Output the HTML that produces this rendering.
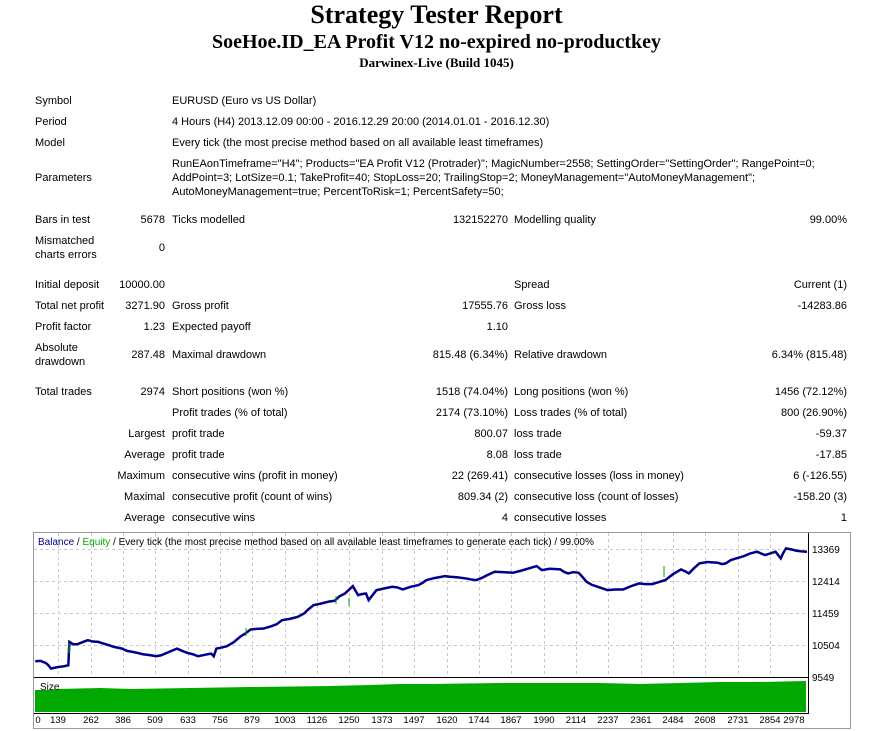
<!DOCTYPE html><html><head><style>
body{margin:0;width:873px;height:731px;background:#fff;position:relative;font-family:"Liberation Sans",sans-serif;font-size:11px;color:#000;overflow:hidden}
.t{position:absolute;white-space:nowrap;line-height:14px}
.r{text-align:right}
h1,h2,h3{position:absolute;left:0;width:873px;text-align:center;margin:0;font-family:"Liberation Serif",serif;font-weight:bold}
</style></head><body>
<h1 style="top:0;font-size:26px">Strategy Tester Report</h1>
<h2 style="top:31px;font-size:20px">SoeHoe.ID_EA Profit V12 no-expired no-productkey</h2>
<h3 style="top:55px;font-size:13px">Darwinex-Live (Build 1045)</h3>

<div class="t" style="left:35px;top:94px">Symbol</div><div class="t" style="left:172px;top:94px">EURUSD (Euro vs US Dollar)</div>
<div class="t" style="left:35px;top:115px">Period</div><div class="t" style="left:172px;top:115px">4 Hours (H4) 2013.12.09 00:00 - 2016.12.29 20:00 (2014.01.01 - 2016.12.30)</div>
<div class="t" style="left:35px;top:136px">Model</div><div class="t" style="left:172px;top:136px">Every tick (the most precise method based on all available least timeframes)</div>
<div class="t" style="left:35px;top:171px">Parameters</div>
<div class="t" style="left:172px;top:157px">RunEAonTimeframe="H4"; Products="EA Profit V12 (Protrader)"; MagicNumber=2558; SettingOrder="SettingOrder"; RangePoint=0;</div>
<div class="t" style="left:172px;top:171px">AddPoint=3; LotSize=0.1; TakeProfit=40; StopLoss=20; TrailingStop=2; MoneyManagement="AutoMoneyManagement";</div>
<div class="t" style="left:172px;top:185px">AutoMoneyManagement=true; PercentToRisk=1; PercentSafety=50;</div>

<div class="t" style="left:35px;top:213px">Bars in test</div><div class="t r" style="right:708px;top:213px">5678</div>
<div class="t" style="left:172px;top:213px">Ticks modelled</div><div class="t r" style="right:365px;top:213px">132152270</div>
<div class="t" style="left:514px;top:213px">Modelling quality</div><div class="t r" style="right:26px;top:213px">99.00%</div>
<div class="t" style="left:35px;top:234px">Mismatched<br>charts errors</div><div class="t r" style="right:708px;top:241px">0</div>

<div class="t" style="left:35px;top:278px">Initial deposit</div><div class="t r" style="right:708px;top:278px">10000.00</div>
<div class="t" style="left:514px;top:278px">Spread</div><div class="t r" style="right:26px;top:278px">Current (1)</div>
<div class="t" style="left:35px;top:299px">Total net profit</div><div class="t r" style="right:708px;top:299px">3271.90</div>
<div class="t" style="left:172px;top:299px">Gross profit</div><div class="t r" style="right:365px;top:299px">17555.76</div>
<div class="t" style="left:514px;top:299px">Gross loss</div><div class="t r" style="right:26px;top:299px">-14283.86</div>
<div class="t" style="left:35px;top:320px">Profit factor</div><div class="t r" style="right:708px;top:320px">1.23</div>
<div class="t" style="left:172px;top:320px">Expected payoff</div><div class="t r" style="right:365px;top:320px">1.10</div>
<div class="t" style="left:35px;top:341px">Absolute<br>drawdown</div><div class="t r" style="right:708px;top:348px">287.48</div>
<div class="t" style="left:172px;top:348px">Maximal drawdown</div><div class="t r" style="right:365px;top:348px">815.48 (6.34%)</div>
<div class="t" style="left:514px;top:348px">Relative drawdown</div><div class="t r" style="right:26px;top:348px">6.34% (815.48)</div>

<div class="t" style="left:35px;top:385px">Total trades</div><div class="t r" style="right:708px;top:385px">2974</div>
<div class="t" style="left:172px;top:385px">Short positions (won %)</div><div class="t r" style="right:365px;top:385px">1518 (74.04%)</div>
<div class="t" style="left:514px;top:385px">Long positions (won %)</div><div class="t r" style="right:26px;top:385px">1456 (72.12%)</div>
<div class="t" style="left:172px;top:406px">Profit trades (% of total)</div><div class="t r" style="right:365px;top:406px">2174 (73.10%)</div>
<div class="t" style="left:514px;top:406px">Loss trades (% of total)</div><div class="t r" style="right:26px;top:406px">800 (26.90%)</div>
<div class="t r" style="right:708px;top:427px">Largest</div><div class="t" style="left:172px;top:427px">profit trade</div><div class="t r" style="right:365px;top:427px">800.07</div>
<div class="t" style="left:514px;top:427px">loss trade</div><div class="t r" style="right:26px;top:427px">-59.37</div>
<div class="t r" style="right:708px;top:448px">Average</div><div class="t" style="left:172px;top:448px">profit trade</div><div class="t r" style="right:365px;top:448px">8.08</div>
<div class="t" style="left:514px;top:448px">loss trade</div><div class="t r" style="right:26px;top:448px">-17.85</div>
<div class="t r" style="right:708px;top:469px">Maximum</div><div class="t" style="left:172px;top:469px">consecutive wins (profit in money)</div><div class="t r" style="right:365px;top:469px">22 (269.41)</div>
<div class="t" style="left:514px;top:469px">consecutive losses (loss in money)</div><div class="t r" style="right:26px;top:469px">6 (-126.55)</div>
<div class="t r" style="right:708px;top:490px">Maximal</div><div class="t" style="left:172px;top:490px">consecutive profit (count of wins)</div><div class="t r" style="right:365px;top:490px">809.34 (2)</div>
<div class="t" style="left:514px;top:490px">consecutive loss (count of losses)</div><div class="t r" style="right:26px;top:490px">-158.20 (3)</div>
<div class="t r" style="right:708px;top:511px">Average</div><div class="t" style="left:172px;top:511px">consecutive wins</div><div class="t r" style="right:365px;top:511px">4</div>
<div class="t" style="left:514px;top:511px">consecutive losses</div><div class="t r" style="right:26px;top:511px">1</div>

<svg style="position:absolute;left:0;top:0" width="873" height="731">
<rect x="33.5" y="532.5" width="817" height="196" fill="#fff" stroke="#999"/>
<g stroke="#c8c8c8" stroke-dasharray="3,3" stroke-width="1">
<line x1="34" x2="808" y1="549.5" y2="549.5"/><line x1="34" x2="808" y1="581.5" y2="581.5"/><line x1="34" x2="808" y1="613.5" y2="613.5"/><line x1="34" x2="808" y1="645.5" y2="645.5"/>
<path d="M58.5 533V677M91.5 533V677M123.5 533V677M155.5 533V677M188.5 533V677M220.5 533V677M252.5 533V677M285.5 533V677M317.5 533V677M349.5 533V677M382.5 533V677M414.5 533V677M447.5 533V677M479.5 533V677M511.5 533V677M544.5 533V677M576.5 533V677M608.5 533V677M641.5 533V677M673.5 533V677M705.5 533V677M738.5 533V677M770.5 533V677"/>
</g>
<line x1="808.5" x2="808.5" y1="533" y2="714" stroke="#000"/>
<line x1="34" x2="808" y1="677.5" y2="677.5" stroke="#000"/>
<line x1="34" x2="808" y1="713.5" y2="713.5" stroke="#000"/>
<polygon points="35,690 50,690 58,689 100,688 130,689 190,688 250,687 330,686 370,685 400,684 430,684 500,683 550,683 600,683 640,684 680,683 720,682 760,682 806,681 806,712 35,712" fill="#00a800"/>
<g transform="translate(30,530) scale(0.525,0.334)">
<polyline fill="none" stroke="#00008c" stroke-width="2.5" vector-effect="non-scaling-stroke" points="10,393 20,392 30,398 35,405 40,415 48,412 55,410 65,408 73,405 75,335 82,342 90,342 100,336 110,330 120,334 130,335 140,340 150,345 160,350 175,355 185,362 195,365 205,368 215,372 230,375 240,378 250,375 265,365 280,355 290,362 300,368 310,372 320,378 332,374 345,370 350,378 355,355 365,352 375,348 388,336 400,320 410,310 420,298 432,296 445,295 460,288 470,282 480,270 495,266 510,260 522,250 530,238 540,225 555,220 570,214 580,212 590,198 600,190 615,168 620,182 625,195 632,192 640,190 645,210 650,200 660,180 672,176 690,170 700,172 710,178 725,170 740,165 748,158 755,150 770,144 790,138 800,140 815,142 830,145 840,148 850,150 860,144 870,136 885,125 900,126 920,128 935,122 950,115 965,108 970,114 975,120 990,116 1010,118 1018,126 1025,130 1035,126 1045,128 1052,140 1060,155 1070,164 1085,172 1100,180 1115,178 1130,178 1145,168 1160,160 1172,162 1185,162 1198,156 1210,150 1225,132 1240,118 1248,124 1255,130 1265,114 1275,100 1290,96 1310,98 1318,102 1325,100 1335,90 1345,85 1360,78 1372,70 1385,65 1392,70 1400,75 1410,70 1420,65 1425,75 1430,85 1435,68 1440,55 1450,58 1460,62 1470,64 1480,65"/>
</g>
<line x1="69" y1="643" x2="69" y2="653" stroke="#0a0"/>
<line x1="349" y1="598" x2="349" y2="606" stroke="#0a0"/>
<line x1="664" y1="566" x2="664" y2="577" stroke="#0a0"/>
<line x1="246" y1="628" x2="246" y2="636" stroke="#0a0"/>
<line x1="336" y1="596" x2="336" y2="604" stroke="#0a0"/>
<g font-family="Liberation Sans,sans-serif" font-size="10">
<text x="38" y="545"><tspan fill="#00008c">Balance</tspan> / <tspan fill="#0a0">Equity</tspan> / Every tick (the most precise method based on all available least timeframes to generate each tick) / 99.00%</text>
<text x="40" y="690">Size</text>
<text x="812" y="553">13369</text><text x="812" y="585">12414</text><text x="812" y="617">11459</text><text x="812" y="649">10504</text><text x="812" y="681">9549</text>
<g text-anchor="middle" font-size="9.5"><text x="38" y="723">0</text><text x="58" y="723">139</text><text x="91" y="723">262</text><text x="123" y="723">386</text><text x="155" y="723">509</text><text x="188" y="723">633</text><text x="220" y="723">756</text><text x="252" y="723">879</text><text x="285" y="723">1003</text><text x="317" y="723">1126</text><text x="349" y="723">1250</text><text x="382" y="723">1373</text><text x="414" y="723">1497</text><text x="447" y="723">1620</text><text x="479" y="723">1744</text><text x="511" y="723">1867</text><text x="544" y="723">1990</text><text x="576" y="723">2114</text><text x="608" y="723">2237</text><text x="641" y="723">2361</text><text x="673" y="723">2484</text><text x="705" y="723">2608</text><text x="738" y="723">2731</text><text x="770" y="723">2854</text><text x="794" y="723">2978</text></g>
</g>
</svg>
</body></html>
